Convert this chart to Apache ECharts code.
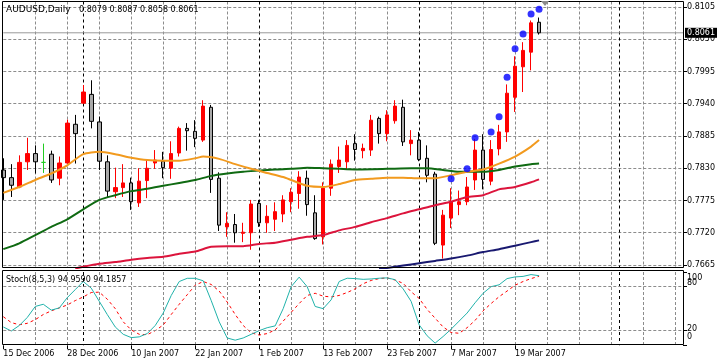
<!DOCTYPE html>
<html><head><meta charset="utf-8">
<script src="https://cdn.jsdelivr.net/npm/echarts@6/dist/echarts.min.js"></script>
<style>html,body{margin:0;padding:0;background:#fff;}#c{width:719px;height:361px;}</style>
</head><body><div id="c"></div>
<script>
// ---------------- data ----------------
const dates = ['15 Dec 2006','18 Dec 2006','19 Dec 2006','20 Dec 2006','21 Dec 2006','22 Dec 2006','26 Dec 2006','27 Dec 2006','28 Dec 2006','29 Dec 2006',
'2 Jan 2007','3 Jan 2007','4 Jan 2007','5 Jan 2007','8 Jan 2007','9 Jan 2007','10 Jan 2007','11 Jan 2007','12 Jan 2007','15 Jan 2007',
'16 Jan 2007','17 Jan 2007','18 Jan 2007','19 Jan 2007','22 Jan 2007','23 Jan 2007','24 Jan 2007','25 Jan 2007','26 Jan 2007','29 Jan 2007',
'30 Jan 2007','31 Jan 2007','1 Feb 2007','2 Feb 2007','5 Feb 2007','6 Feb 2007','7 Feb 2007','8 Feb 2007','9 Feb 2007','12 Feb 2007',
'13 Feb 2007','14 Feb 2007','15 Feb 2007','16 Feb 2007','19 Feb 2007','20 Feb 2007','21 Feb 2007','22 Feb 2007','23 Feb 2007','26 Feb 2007',
'27 Feb 2007','28 Feb 2007','1 Mar 2007','2 Mar 2007','5 Mar 2007','6 Mar 2007','7 Mar 2007','8 Mar 2007','9 Mar 2007','12 Mar 2007',
'13 Mar 2007','14 Mar 2007','15 Mar 2007','16 Mar 2007','19 Mar 2007','20 Mar 2007','21 Mar 2007','22 Mar 2007'];

const open  = [0.7827,0.7814,0.7798,0.7841,0.7855,0.7840,0.7854,0.7813,0.7839,0.7905,
0.7941,0.7956,0.7909,0.7841,0.7790,0.7797,0.7805,0.7771,0.7809,0.7839,
0.7842,0.7830,0.7856,0.7898,0.7893,0.7878,0.7934,0.7813,0.7730,0.7734,
0.7719,0.7720,0.7770,0.7737,0.7743,0.7752,0.7773,0.7787,0.7813,0.7754,
0.7713,0.7796,0.7833,0.7841,0.7872,0.7860,0.7861,0.7915,0.7889,0.7911,
0.7934,0.7872,0.7878,0.7847,0.7820,0.7699,0.7745,0.7768,0.7773,0.7810,
0.7861,0.7808,0.7863,0.7892,0.7951,0.8003,0.8028,0.8079];
const close = [0.7814,0.7801,0.7840,0.7855,0.7841,0.7840,0.7810,0.7839,0.7907,0.7889,
0.7960,0.7910,0.7842,0.7791,0.7797,0.7805,0.7773,0.7808,0.7830,0.7844,
0.7831,0.7855,0.7898,0.7894,0.7881,0.7936,0.7811,0.7733,0.7736,0.7720,
0.7721,0.7769,0.7737,0.7748,0.7756,0.7776,0.7789,0.7815,0.7768,0.7710,
0.7796,0.7837,0.7844,0.7869,0.7862,0.7864,0.7912,0.7889,0.7921,0.7936,
0.7875,0.7878,0.7845,0.7818,0.7702,0.7750,0.7773,0.7773,0.7798,0.7861,
0.7811,0.7862,0.7892,0.7958,0.8004,0.8031,0.8078,0.8061];
const low   = [0.7776,0.7781,0.7796,0.7827,0.7821,0.7822,0.7805,0.7801,0.7838,0.7838,
0.7940,0.7898,0.7827,0.7781,0.7779,0.7781,0.7759,0.7764,0.7779,0.7829,
0.7813,0.7812,0.7850,0.7860,0.7866,0.7875,0.7788,0.7723,0.7713,0.7703,
0.7704,0.7691,0.7730,0.7720,0.7723,0.7738,0.7755,0.7761,0.7749,0.7708,
0.7700,0.7783,0.7822,0.7827,0.7843,0.7847,0.7851,0.7872,0.7876,0.7906,
0.7868,0.7852,0.7842,0.7806,0.7699,0.7676,0.7728,0.7750,0.7767,0.7793,
0.7794,0.7801,0.7852,0.7875,0.7926,0.7960,0.7997,0.8058];
const high  = [0.7847,0.7837,0.7852,0.7882,0.7869,0.7872,0.7860,0.7850,0.7913,0.7921,
0.7972,0.7980,0.7918,0.7852,0.7831,0.7837,0.7814,0.7830,0.7845,0.7861,
0.7858,0.7876,0.7901,0.7907,0.7912,0.7946,0.7938,0.7823,0.7755,0.7752,
0.7737,0.7776,0.7776,0.7767,0.7772,0.7784,0.7796,0.7825,0.7826,0.7784,
0.7806,0.7845,0.7867,0.7878,0.7888,0.7872,0.7921,0.7918,0.7929,0.7946,
0.7947,0.7895,0.7892,0.7869,0.7824,0.7759,0.7796,0.7792,0.7815,0.7880,
0.7888,0.7878,0.7904,0.7973,0.8021,0.8045,0.8082,0.8087];

// moving averages: [bar index, price]
const maOrange = [[0,0.7788],[2,0.7798],[4,0.7810],[6,0.7821],[8,0.7835],[10,0.7854],[12,0.7858],[14,0.7854],[16,0.7848],[18,0.7844],
[20,0.7843],[22,0.7843],[24,0.7847],[25,0.7850],[27,0.7846],[29,0.7837],[31,0.7829],[33,0.7822],[35,0.7815],[36,0.7810],
[38,0.7800],[40,0.7798],[42,0.7803],[44,0.7810],[46,0.7812],[48,0.7814],[50,0.7814],[52,0.7813],[54,0.7813],[56,0.7818],
[58,0.7824],[60,0.7828],[62,0.7838],[64,0.7850],[66,0.7867],[67,0.7878]];
const maGreen = [[0,0.7692],[2,0.7702],[4,0.7716],[6,0.7730],[8,0.7743],[10,0.7760],[12,0.7776],[14,0.7784],[16,0.7791],[18,0.7795],
[20,0.7800],[22,0.7805],[24,0.7810],[26,0.7817],[28,0.7821],[30,0.7824],[32,0.7826],[34,0.7828],[36,0.7829],[38,0.7831],
[40,0.7830],[44,0.7828],[48,0.7829],[51,0.7830],[53,0.7830],[55,0.7827],[57,0.7824],[60,0.7824],[62,0.7827],[64,0.7833],
[66,0.7837],[67,0.7838]];
const maCrimson = [[9,0.7659],[10,0.7662],[12,0.7667],[14,0.7670],[16,0.7674],[18,0.7677],[20,0.7679],[22,0.7684],[24,0.7688],[26,0.7696],
[28,0.7697],[30,0.7697],[32,0.7701],[34,0.7703],[36,0.7708],[38,0.7713],[40,0.7716],[42,0.7724],[44,0.7730],[46,0.7738],
[48,0.7745],[50,0.7753],[52,0.7760],[54,0.7767],[56,0.7773],[58,0.7781],[60,0.7784],[62,0.7794],[64,0.7798],[66,0.7806],[67,0.7811]];
const maNavy = [[47,0.7658],[48,0.7660],[50,0.7664],[52,0.7668],[54,0.7672],[56,0.7676],[58,0.7681],[60,0.7687],[62,0.7692],[64,0.7698],[66,0.7704],[67,0.7707]];

const sarIdx = [56,58,59,61,62,63,64,65,66,67];
const sarVal = [0.7812,0.7829,0.7882,0.7892,0.7918,0.7985,0.8034,0.8059,0.8093,0.8101];

const stochK = [25,19.5,27,38,53,56,48,51,65,76, 87,78,60,42,25,15,10.5,11.5,16,27,
44,68,87,91.4,91.4,88,61,32,10,7, 10,15,20,24,26.5,50,80,93,80,53,
50,62,87,91.5,91,90,90.5,91.5,92,89.5, 77,60,28,13,3,12,22,33,44,58,
71,80,82.5,91,93.3,94,96.5,94.959];
const stochD = [39,31,28,30,35,42,47,51,55,61, 66,72,72.5,63,50,32,21,15,14.5,20,
27.7,42,56,69,82,87,83,74,59,42, 27,17,14,16,21,33,45,57,68,71,
67,66,68,72,77,84,88.5,91,92,89, 84.6,73,64,49,37,25,17.5,16.4,24,34,
47,57,66.3,74,82,87,91,94.1857];

const priceTickMin = 0.7665, priceTickMax = 0.8105, priceTickStep = 0.0055;
const stochLevelsA = [20, 100];
const stochLevelsB = [0, 80];
const stochLevelLines = [80, 20];
const dateTickIdx = [0,8,16,24,32,40,48,56,64];
const monthStartIdx = [10,32,52,77];
const lastPrice = 0.8061;
const titleMain = 'AUDUSD,Daily';
const titleOHLC = '0.8079 0.8087 0.8058 0.8061';
const titleStoch = 'Stoch(8,5,3) 94.9590 94.1857';

// ---------------- layout ----------------
const FONT = 'DejaVu Sans';
const N = 86;
const cats = dates.slice();
for (let i = dates.length; i < N; i++) cats.push('_f' + i);

const candleData = open.map((o, i) => [o, close[i], low[i], high[i]]);
const sarData = sarIdx.map((k, i) => [k, sarVal[i]]);
const lastPriceData = [[0, lastPrice], [N - 1, lastPrice]];

const L = 3.3, R = 36;
const gA = {top: 7, h: 258};
const pxPerUnit = gA.h / (priceTickMax - priceTickMin);
const gB = {top: 1.5, h: 266.5};
const bMax = priceTickMax + (gA.top - gB.top) / pxPerUnit;
const bMin = priceTickMin - ((gB.top + gB.h) - (gA.top + gA.h)) / pxPerUnit;

const grayDash = {color: '#8c8c8c', type: [3, 2], width: 1};
const blackDash = {color: '#000', type: [3, 3], width: 1};
const isGray = i => i % 4 === 0 && i > 0 && monthStartIdx.indexOf(i) < 0;
const isMonth = i => monthStartIdx.indexOf(i) >= 0;

function xAx(gridIndex, splitFn, style, extra) {
  return Object.assign({
    type: 'category', data: cats, gridIndex, boundaryGap: false,
    axisLine: {show: false}, axisTick: {show: false}, axisLabel: {show: false},
    splitLine: {show: true, interval: (i) => splitFn(i), lineStyle: style}
  }, extra || {});
}

const stochRich = {
  t100: {padding: [11, 0, 0, 0], fontFamily: FONT, fontSize: 8, color: '#000'},
  t80: {padding: [0, 0, 7, 0], fontFamily: FONT, fontSize: 8, color: '#000'},
  t20: {padding: [0, 0, 3, 0], fontFamily: FONT, fontSize: 8, color: '#000'},
  t0: {padding: [0, 0, 16, 0], fontFamily: FONT, fontSize: 8, color: '#000'}
};
function stochY(levels) {
  return {type: 'value', gridIndex: 2, position: 'right', min: 0, max: 100,
    axisLine: {show: false},
    axisTick: {show: true, length: 4, customValues: levels, lineStyle: {color: '#000'}},
    axisLabel: {customValues: levels, margin: 4, fontFamily: FONT, fontSize: 8, color: '#000',
      showMinLabel: true, showMaxLabel: true, hideOverlap: false,
      formatter: v => '{t' + v + '|' + v + '}', rich: stochRich},
    splitLine: {show: false}};
}

const option = {
  animation: false,
  backgroundColor: '#fff',
  textStyle: {fontFamily: FONT},
  title: [
    {text: titleMain, left: 6, top: 5, padding: 0, textStyle: {fontFamily: FONT, fontSize: 9, fontWeight: 'normal', color: '#000'}},
    {text: titleOHLC, left: 79, top: 6, padding: 0, textStyle: {fontFamily: FONT, fontSize: 8, fontWeight: 'normal', color: '#000'}},
    {text: titleStoch, left: 6, top: 276, padding: 0, textStyle: {fontFamily: FONT, fontSize: 8, fontWeight: 'normal', color: '#000'}}
  ],
  grid: [
    {left: L, right: R, top: gA.top, height: gA.h},
    {left: L, right: R, top: gB.top, height: gB.h},
    {left: L, right: R, top: 272, height: 73.3}
  ],
  xAxis: [
    {type: 'category', data: cats, gridIndex: 0, boundaryGap: false, show: false},
    xAx(1, isGray, grayDash),
    xAx(1, isMonth, blackDash),
    xAx(2, isGray, grayDash, {
      axisTick: {show: true, interval: (i) => dateTickIdx.indexOf(i) >= 0, length: 4, lineStyle: {color: '#000'}},
      axisLabel: {show: true, interval: (i) => dateTickIdx.indexOf(i) >= 0, align: 'left', margin: 5,
        fontFamily: FONT, fontSize: 8, color: '#000', formatter: v => v}
    }),
    xAx(2, isMonth, blackDash)
  ],
  yAxis: [
    {type: 'value', gridIndex: 0, position: 'right', min: priceTickMin, max: priceTickMax, interval: priceTickStep,
      axisLine: {show: false},
      axisTick: {show: true, length: 4, lineStyle: {color: '#000'}},
      axisLabel: {fontFamily: FONT, fontSize: 8, color: '#000', margin: 4, showMinLabel: true, showMaxLabel: true,
        hideOverlap: false, formatter: v => v.toFixed(4)},
      splitLine: {show: true, lineStyle: grayDash}},
    {type: 'value', gridIndex: 1, min: bMin, max: bMax, show: false},
    stochY(stochLevelsA),
    stochY(stochLevelsB)
  ],
  series: [
    {type: 'candlestick', name: 'AUDUSD', xAxisIndex: 1, yAxisIndex: 1, data: candleData, barWidth: 4, z: 2,
      itemStyle: {color: '#FF0000', borderColor: '#FF0000', color0: '#A9A9A9', borderColor0: '#000000',
        borderColorDoji: '#22CC22', borderWidth: 1}},
    {type: 'line', name: 'last', xAxisIndex: 1, yAxisIndex: 1, data: lastPriceData, showSymbol: false, z: 2,
      lineStyle: {color: '#9a9a9a', width: 1}, silent: true,
      endLabel: {show: true, distance: 2, formatter: () => lastPrice.toFixed(4),
        backgroundColor: '#000', color: '#fff', fontFamily: FONT, fontSize: 8, padding: [1, 2, 1, 2]}},
    {type: 'line', xAxisIndex: 1, yAxisIndex: 1, data: maNavy, showSymbol: false, smooth: 0.2, z: 3,
      lineStyle: {color: '#191970', width: 2}},
    {type: 'line', xAxisIndex: 1, yAxisIndex: 1, data: maCrimson, showSymbol: false, smooth: 0.2, z: 3,
      lineStyle: {color: '#DC143C', width: 2}},
    {type: 'line', xAxisIndex: 1, yAxisIndex: 1, data: maGreen, showSymbol: false, smooth: 0.2, z: 3,
      lineStyle: {color: '#0F6A12', width: 2}},
    {type: 'line', xAxisIndex: 1, yAxisIndex: 1, data: maOrange, showSymbol: false, smooth: 0.2, z: 3,
      lineStyle: {color: '#F29A1E', width: 2}},
    {type: 'scatter', xAxisIndex: 1, yAxisIndex: 1, data: sarData, symbol: 'circle', symbolSize: 7, z: 4,
      itemStyle: {color: '#0000FF'}},
    {type: 'line', xAxisIndex: 3, yAxisIndex: 2, data: stochD, showSymbol: false, z: 3,
      lineStyle: {color: '#FF0000', width: 1, type: [3, 3]}},
    {type: 'line', xAxisIndex: 3, yAxisIndex: 2, data: stochK, showSymbol: false, z: 4,
      lineStyle: {color: '#20B2AA', width: 1},
      markLine: {silent: true, symbol: ['none', 'none'], label: {show: false}, lineStyle: grayDash,
        data: stochLevelLines.map(v => ({yAxis: v}))}}
  ],
  graphic: [
    {type: 'rect', silent: true, z: 100, shape: {x: 2.5, y: 1.5, width: 681, height: 266},
      style: {fill: 'none', stroke: '#000', lineWidth: 1}},
    {type: 'rect', silent: true, z: 100, shape: {x: 2.5, y: 270.5, width: 681, height: 74},
      style: {fill: 'none', stroke: '#000', lineWidth: 1}},
    {type: 'polygon', silent: true, z: 100, shape: {points: [[541, 1], [549, 1], [545, 6]]},
      style: {fill: '#8a8a8a'}}
  ]
};

const chart = echarts.init(document.getElementById('c'), null, {renderer: 'canvas'});
chart.setOption(option);
</script>
</body></html>
